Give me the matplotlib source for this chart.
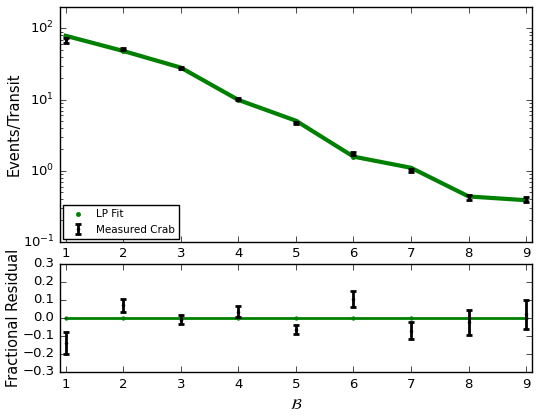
import numpy as np
import matplotlib
matplotlib.use('Agg')
import matplotlib.pyplot as plt

# data
bins = [1, 2, 3, 4, 5, 6, 7, 8, 9]
fit = [79.0, 48.3, 28.2, 9.9, 5.05, 1.58, 1.10, 0.435, 0.385]
resid = [-0.14, 0.07, -0.01, 0.035, -0.065, 0.105, -0.07, -0.025, 0.02]
resid_err = [0.062, 0.038, 0.025, 0.03, 0.025, 0.045, 0.047, 0.072, 0.08]

fit = np.array(fit)
resid = np.array(resid)
resid_err = np.array(resid_err)
measured = fit * (1 + resid)
measured_err = fit * resid_err

plt.style.use('classic')
plt.rcParams['mathtext.fontset'] = 'dejavusans'
plt.rcParams['font.size'] = 9.5

fig = plt.figure(figsize=(5.4, 4.17), dpi=100, facecolor='white')
ax = fig.add_axes([0.111, 0.42, 0.874, 0.563])
ax_r = fig.add_axes([0.111, 0.108, 0.874, 0.259])

# top panel
ax.plot(bins, fit, 'g.', ms=6, label='LP Fit')
ax.plot(bins, fit, 'g-', lw=3)
ax.errorbar(bins, measured, yerr=measured_err, fmt='k.', ms=4, elinewidth=2,
            capsize=2.5, capthick=2, label='Measured Crab')
ax.set_yscale('log')
ax.set_ylim(0.1, 200)
ax.set_xlim(0.9, 9.1)
ax.set_xticks(bins)
ax.set_ylabel('Events/Transit', fontsize=10.5)
ax.yaxis.set_label_coords(-0.082, 0.5)
ax.tick_params(labelsize=9.5)
ax.legend(loc='lower left', numpoints=1, fontsize=7.5, borderaxespad=0.3)

# residuals
ax_r.plot(bins, np.zeros(len(bins)), 'g.-', lw=2, ms=5)
ax_r.errorbar(bins, resid, yerr=resid_err, fmt='k.', ms=4, elinewidth=2,
              capsize=2.5, capthick=2)
ax_r.set_xlim(0.9, 9.1)
ax_r.set_ylim(-0.3, 0.3)
ax_r.set_xticks(bins)
ax_r.set_yticks(np.arange(-0.3, 0.31, 0.1))
ax_r.set_ylabel('Fractional Residual', fontsize=10.5)
ax_r.yaxis.set_label_coords(-0.082, 0.5)
ax_r.set_xlabel(r'$\mathcal{B}$', fontsize=10.5)
ax_r.tick_params(labelsize=9.5)

plt.savefig('out.png', dpi=100, facecolor='white')
